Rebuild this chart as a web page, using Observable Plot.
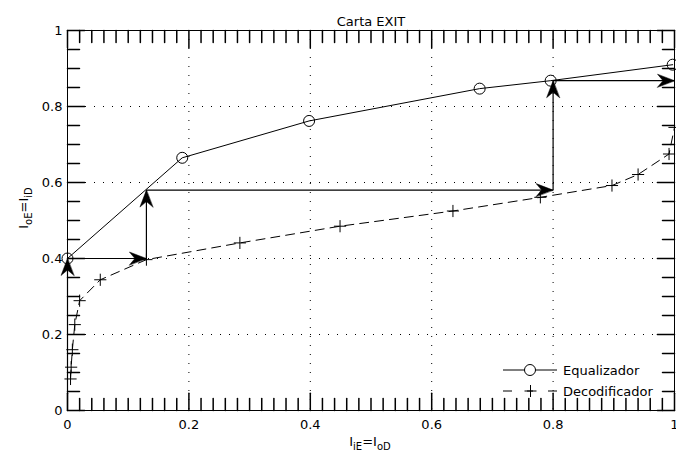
<!DOCTYPE html>
<html>
<head>
<meta charset="utf-8">
<script src="https://cdn.jsdelivr.net/npm/d3@7"></script>
<script src="https://cdn.jsdelivr.net/npm/@observablehq/plot@0.6"></script>
<style>
  html, body { margin: 0; padding: 0; background: #fff; }
  #chart { width: 676px; height: 461px; }
</style>
</head>
<body>
<div id="chart"></div>
<script>
// ---- data ----
const titleText = "Carta EXIT";
const seriesNames = ["Equalizador", "Decodificador"];

const eqX = [0, 0.189, 0.398, 0.679, 0.796, 0.997];
const eqY = [0.40, 0.665, 0.762, 0.847, 0.868, 0.910];

const decX = [0.005, 0.006, 0.008, 0.012, 0.020, 0.054, 0.130, 0.284, 0.449, 0.635, 0.779, 0.897, 0.940, 0.991, 1.0];
const decY = [0.083, 0.114, 0.160, 0.226, 0.289, 0.344, 0.397, 0.441, 0.485, 0.525, 0.561, 0.592, 0.621, 0.675, 0.745];

// trajectory (staircase) vertices
const trajX = [0, 0, 0.13, 0.13, 0.80, 0.80, 1.0];
const trajY = [0, 0.40, 0.40, 0.58, 0.58, 0.868, 0.868];

const xMajor = [0, 0.2, 0.4, 0.6, 0.8, 1];
const yMajor = [0, 0.2, 0.4, 0.6, 0.8, 1];
const xGrid = [0.2, 0.4, 0.6, 0.8];
const yGrid = [0.2, 0.4, 0.6, 0.8];
const xMinor = d3.range(0, 51).map(i => +(i * 0.02).toFixed(2));
const yMinor = d3.range(0, 21).map(i => +(i * 0.05).toFixed(2));

// ---- tables ----
const eq = eqX.map((x, i) => ({x, y: eqY[i]}));
const dec = decX.map((x, i) => ({x, y: decY[i]}));
const segs = trajX.slice(1).map((_, i) => ({
  x1: trajX[i], y1: trajY[i], x2: trajX[i + 1], y2: trajY[i + 1]
}));
const dirAngle = s => s.x2 > s.x1 ? 90 : s.x2 < s.x1 ? 270 : s.y2 > s.y1 ? 0 : 180;

const tickShape = { draw(ctx, l) { ctx.moveTo(0, 0); ctx.lineTo(0, -l); } };
const headShape = {
  draw(ctx) {
    ctx.moveTo(0, 0);
    ctx.lineTo(-6.5, 17);
    ctx.lineTo(0, 11.5);
    ctx.lineTo(6.5, 17);
    ctx.closePath();
  }
};

const font = "'DejaVu Sans', 'Liberation Sans', Arial, sans-serif";

const chart = Plot.plot({
  width: 676,
  height: 461,
  marginLeft: 67,
  marginRight: 2,
  marginTop: 30,
  marginBottom: 51,
  x: {domain: [0, 1]},
  y: {domain: [0, 1]},
  style: {fontFamily: font, fontSize: "13px", color: "black", background: "white", overflow: "visible"},
  marks: [
    // grid
    Plot.ruleX(xGrid, {x: d => d, stroke: "black", strokeWidth: 1, strokeDasharray: "1,8"}),
    Plot.ruleY(yGrid, {y: d => d, stroke: "black", strokeWidth: 1, strokeDasharray: "1,8"}),
    // inward ticks on all four sides
    Plot.vector(xMinor, {x: d => d, frameAnchor: "bottom", length: d => xMajor.includes(d) ? 5 : 3.5, shape: tickShape, rotate: 0, anchor: "start", stroke: "black"}),
    Plot.vector(xMinor, {x: d => d, frameAnchor: "top", length: d => xMajor.includes(d) ? 5 : 3.5, shape: tickShape, rotate: 180, anchor: "start", stroke: "black"}),
    Plot.vector(yMinor, {y: d => d, frameAnchor: "left", length: d => yMajor.includes(d) ? 5 : 3.5, shape: tickShape, rotate: 90, anchor: "start", stroke: "black"}),
    Plot.vector(yMinor, {y: d => d, frameAnchor: "right", length: d => yMajor.includes(d) ? 5 : 3.5, shape: tickShape, rotate: 270, anchor: "start", stroke: "black"}),
    // tick labels
    Plot.axisX(xMajor, {tickSize: 0, tickPadding: 9, tickFormat: d => String(d), label: null, fontSize: 13}),
    Plot.axisY(yMajor, {tickSize: 0, tickPadding: 5, tickFormat: d => String(d), label: null, fontSize: 13}),
    // decoder curve
    Plot.line(dec, {x: "x", y: "y", stroke: "black", strokeWidth: 1, strokeDasharray: "9,6"}),
    Plot.dot(dec, {x: "x", y: "y", symbol: "plus", r: 4, stroke: "black", strokeWidth: 1}),
    // equalizer curve
    Plot.line(eq, {x: "x", y: "y", stroke: "black", strokeWidth: 1}),
    Plot.dot(eq, {x: "x", y: "y", r: 5.5, stroke: "black", fill: "none", strokeWidth: 1}),
    // trajectory
    Plot.link(segs, {x1: "x1", y1: "y1", x2: "x2", y2: "y2", stroke: "black", strokeWidth: 1.2}),
    Plot.vector(segs, {x: "x2", y: "y2", rotate: dirAngle, shape: headShape, anchor: "start", length: 17, fill: "black", stroke: "black", strokeWidth: 0.5}),
    // frame and title
    Plot.frame({stroke: "black", strokeWidth: 1}),
    Plot.text([titleText], {text: d => d, frameAnchor: "top", dy: -14, fontSize: 13})
  ]
});

document.getElementById("chart").appendChild(chart);

// ---- axis labels with subscripts and legend ----
const svg = d3.select(chart);
const xl = svg.append("text")
  .attr("x", 370).attr("y", 446)
  .attr("text-anchor", "middle")
  .attr("font-family", font).attr("font-size", 13).attr("fill", "black");
xl.append("tspan").text("I");
xl.append("tspan").attr("dy", 4).attr("font-size", 10).text("iE");
xl.append("tspan").attr("dy", -4).text("=I");
xl.append("tspan").attr("dy", 4).attr("font-size", 10).text("oD");

const yl = svg.append("text")
  .attr("transform", "translate(28,208) rotate(-90)")
  .attr("text-anchor", "middle")
  .attr("font-family", font).attr("font-size", 13).attr("fill", "black");
yl.append("tspan").text("I");
yl.append("tspan").attr("dy", 4).attr("font-size", 10).text("oE");
yl.append("tspan").attr("dy", -4).text("=I");
yl.append("tspan").attr("dy", 4).attr("font-size", 10).text("iD");

const lg = svg.append("g").attr("font-family", font).attr("font-size", 13).attr("text-anchor", "start");
// Equalizador
lg.append("line").attr("x1", 503).attr("x2", 557).attr("y1", 370).attr("y2", 370).attr("stroke", "black");
lg.append("circle").attr("cx", 530).attr("cy", 370).attr("r", 5.5).attr("fill", "white").attr("stroke", "black");
lg.append("text").attr("x", 563).attr("y", 370).attr("dy", "0.35em").attr("text-anchor", "start").text(seriesNames[0]);
// Decodificador
lg.append("line").attr("x1", 503).attr("x2", 557).attr("y1", 391).attr("y2", 391).attr("stroke", "black").attr("stroke-dasharray", "9,15,6,15,9");
lg.append("path").attr("d", "M524.5,391H536.5M530.5,385V397").attr("stroke", "black");
lg.append("text").attr("x", 563).attr("y", 391).attr("dy", "0.35em").attr("text-anchor", "start").text(seriesNames[1]);
</script>
</body>
</html>
